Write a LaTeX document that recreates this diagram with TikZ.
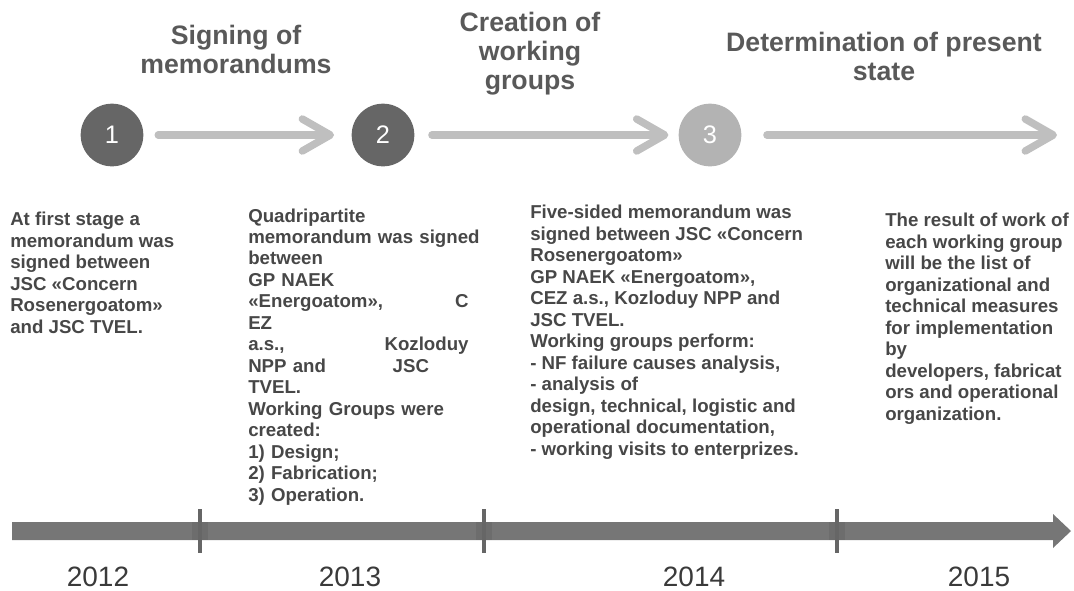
\documentclass[tikz,border=0pt]{standalone}
\usepackage{fontspec}
\setmainfont{Liberation Sans}
\usetikzlibrary{arrows.meta}

\definecolor{bartone}{HTML}{767676}
\definecolor{tickbox}{HTML}{6D6D6D}
\definecolor{ticktone}{HTML}{666666}
\definecolor{stepdark}{HTML}{666666}
\definecolor{steplight}{HTML}{B3B3B3}
\definecolor{flowtone}{HTML}{BFBFBF}
\definecolor{headtone}{HTML}{595959}
\definecolor{bodytone}{HTML}{474747}
\definecolor{yeartone}{HTML}{3A3A3A}

\tikzset{
  stage/.style={circle, minimum size=47pt, inner sep=0pt, text=white,
    font=\fontsize{19}{19}\selectfont},
  flow/.style={draw=flowtone, line width=5.6pt, line cap=round,
    -{Straight Barb[length=21pt,width=24pt,round]}},
  head/.style={align=center, inner sep=0pt, text=headtone,
    font=\fontsize{20}{21.75}\selectfont\bfseries},
  body/.style={align=left, inner sep=0pt, text=bodytone,
    font=\fontsize{14}{16.1}\selectfont\bfseries},
  year/.style={inner sep=0pt, text=yeartone, font=\fontsize{21}{21}\selectfont}
}

\begin{document}
\begin{tikzpicture}[x=0.75pt,y=-0.75pt]
  \useasboundingbox (0,0) rectangle (1074,590);

  % time bar
  \fill[bartone] (12,522) -- (1053,522) -- (1053,514) -- (1071,531)
    -- (1053,548) -- (1053,540) -- (12,540) -- cycle;
  \foreach \tx in {200,484,837} {
    \fill[tickbox] (\tx-8,522) rectangle (\tx+8,540);
    \draw[ticktone, line width=3pt] (\tx,509) -- (\tx,553);
  }
  \node (y12) [year, anchor=base] at (98,586) {2012};
  \node (y13) [year, anchor=base] at (350,586) {2013};
  \node (y14) [year, anchor=base] at (694,586) {2014};
  \node (y15) [year, anchor=base] at (979,586) {2015};

  % stages
  \node (c1) [stage, fill=stepdark] at (112,135) {1};
  \node (c2) [stage, fill=stepdark] at (383,135) {2};
  \node (c3) [stage, fill=steplight] at (710,135) {3};
  \coordinate (end) at (1057,135);
  \draw[flow, shorten <=11pt, shorten >=13pt] (c1) -- (c2);
  \draw[flow, shorten <=13pt, shorten >=7.5pt] (c2) -- (c3);
  \draw[flow, shorten <=19pt] (c3) -- (end);

  % titles (anchored at the last line)
  \node (h1) [head, anchor=base] at (236,73) {Signing of\\memorandums};
  \node (h2) [head, anchor=base] at (530,89) {Creation of\\working\\groups};
  \node (h3) [head, anchor=base] at (884,80) {Determination of present\\state};

  % descriptions (anchored at the last line; d2 at its first)
  \node (d1) [body, anchor=base west] at (10,333)
    {At first stage a\\memorandum was\\signed between\\JSC «Concern\\Rosenergoatom»\\and JSC TVEL.};
  \node (d2) [body, anchor=base west, text width=180pt] at (248,222)
    {Quadripartite\\memorandum was signed\\between\\GP NAEK\\«Energoatom»,\hspace{54pt}C\\EZ\\a.s.,\hspace{75pt}Kozloduy\\NPP and\hspace{50pt}JSC\\TVEL.\\Working Groups were\\created:\\1) Design;\\2) Fabrication;\\3) Operation.};
  \node (d3) [body, anchor=base west] at (530,455)
    {Five-sided memorandum was\\signed between JSC «Concern\\Rosenergoatom»\\GP NAEK «Energoatom»,\\CEZ a.s., Kozloduy NPP and\\JSC TVEL.\\Working groups perform:\\- NF failure causes analysis,\\- analysis of\\design, technical, logistic and\\operational documentation,\\- working visits to enterprizes.};
  \node (d4) [body, anchor=base west] at (885,420)
    {The result of work of\\each working group\\will be the list of\\organizational and\\technical measures\\for implementation\\by\\developers, fabricat\\ors and operational\\organization.};
\end{tikzpicture}
\end{document}
